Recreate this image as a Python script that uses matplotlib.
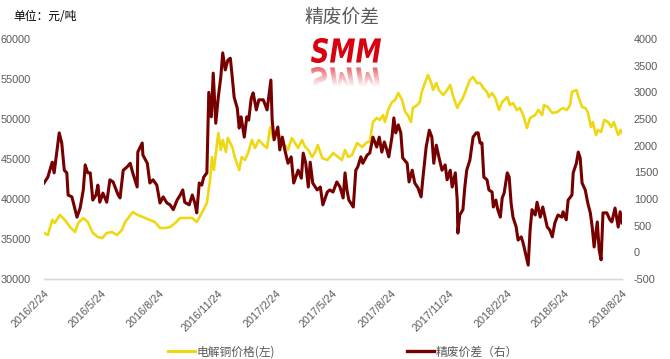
import datetime as dt
import numpy as np
import matplotlib
matplotlib.use('Agg')
import matplotlib.pyplot as plt
from matplotlib.textpath import TextPath
from matplotlib.patches import PathPatch
from matplotlib.font_manager import FontProperties
from matplotlib.transforms import Affine2D
from matplotlib.lines import Line2D

# ---------------- data ----------------
start_date = '2016-02-24'

# 电解铜价格 (left axis), days since start_date
copper_days = [0, 6, 13, 17, 25, 33, 41, 49, 54, 62,
               69, 77, 85, 92, 99, 107, 115, 123, 128, 133,
               140, 148, 156, 167, 175, 183, 191, 199, 207, 215,
               222, 234, 241, 249, 257, 262, 265, 268, 275, 279,
               282, 287, 290, 297, 301, 308, 312, 317, 322, 328,
               333, 339, 346, 352, 357, 361, 369, 376, 380, 385,
               391, 396, 401, 407, 412, 417, 423, 428, 432, 439,
               447, 454, 456, 464, 470, 475, 480, 486, 494, 502,
               510, 514, 519, 525, 530, 535, 538, 543, 549, 554,
               559, 565, 570, 574, 579, 582, 589, 593, 596, 601,
               606, 611, 614, 619, 623, 630, 636, 641, 645, 652,
               656, 661, 667, 672, 677, 683, 688, 693, 699, 702,
               707, 712, 718, 723, 731, 735, 740, 746, 751, 756,
               762, 767, 775, 780, 786, 789, 795, 802, 810, 814,
               819, 825, 830, 833, 840, 844, 849, 854, 858, 863,
               866, 871, 874, 879, 884, 890, 895, 899, 906, 910,
               912]
copper_price = [35750, 35500, 37375, 37000, 38000, 37375, 36500, 35875, 37000, 37625,
                37125, 35750, 35250, 35125, 35750, 35875, 35500, 36125, 37125, 37625,
                38375, 38000, 37750, 37375, 37125, 36375, 36375, 36500, 37000, 37625,
                37625, 37625, 37125, 38250, 39500, 42375, 45250, 43625, 48250, 46125,
                47375, 45875, 47625, 46500, 45250, 43625, 45250, 44875, 45750, 47375,
                46375, 47375, 46750, 46375, 49000, 47750, 48375, 47375, 46750, 46125,
                47625, 47000, 46375, 47375, 46500, 46125, 45250, 45875, 46750, 45125,
                44875, 45500, 45750, 45250, 44875, 46125, 45250, 45500, 47000, 46500,
                47125, 47125, 49625, 50125, 49875, 50500, 49625, 51125, 52125, 52375,
                53250, 52375, 50875, 50500, 49625, 51375, 51750, 52125, 53375, 54500,
                55500, 54500, 53625, 54500, 53625, 53000, 53625, 54250, 53000, 51375,
                52000, 52625, 53875, 54875, 55250, 54500, 54500, 53875, 53375, 52750,
                53250, 52625, 51125, 52125, 52750, 51750, 52000, 51125, 51375, 50500,
                48875, 50125, 50500, 51125, 50500, 51750, 51500, 50750, 50875, 51125,
                51375, 51125, 51750, 53375, 53625, 52625, 51500, 51375, 50875, 49000,
                49625, 48000, 48625, 48375, 49875, 49625, 49000, 49625, 48000, 48625,
                48250]

# 精废价差 (right axis), days since start_date
spread_days = [0, 6, 13, 16, 19, 24, 28, 32, 36, 38,
               44, 52, 57, 62, 65, 69, 73, 77, 82, 85,
               88, 93, 99, 104, 109, 117, 120, 125, 131, 136,
               140, 147, 148, 155, 156, 163, 167, 172, 178, 183,
               188, 194, 199, 204, 210, 215, 219, 222, 229, 234,
               238, 241, 245, 249, 252, 257, 260, 264, 267, 271,
               275, 279, 282, 286, 290, 294, 297, 300, 305, 308,
               311, 316, 320, 323, 327, 330, 335, 339, 346, 352,
               358, 360, 363, 369, 372, 376, 380, 385, 390, 394,
               401, 406, 409, 413, 417, 420, 424, 431, 436, 440,
               447, 451, 456, 462, 467, 472, 475, 478, 481, 488,
               492, 495, 500, 503, 510, 514, 519, 525, 529, 533,
               537, 541, 544, 549, 552, 555, 559, 563, 566, 573,
               576, 581, 585, 590, 595, 598, 603, 608, 612, 615,
               619, 623, 628, 633, 636, 641, 644, 649, 652, 653,
               656, 661, 664, 667, 672, 677, 682, 685, 688, 691,
               694, 699, 702, 707, 709, 713, 716, 720, 723, 726,
               731, 734, 737, 740, 745, 748, 753, 756, 761, 764,
               767, 770, 775, 778, 783, 787, 794, 798, 802, 806,
               811, 817, 819, 824, 827, 833, 835, 840, 843, 846,
               849, 854, 858, 862, 865, 868, 873, 876, 879, 882,
               888, 893, 896, 901, 906, 909, 912]
spread_value = [1300, 1410, 1690, 1490, 1770, 2240, 2050, 1540, 1490, 1075,
                1040, 660, 830, 1170, 1640, 1490, 1490, 980, 1075, 1260,
                940, 1110, 940, 1360, 1320, 1075, 1020, 1540, 1600, 1670,
                1490, 1225, 1880, 2050, 1825, 1670, 1300, 1360, 1260, 925,
                1040, 925, 890, 800, 980, 1075, 1170, 940, 890, 1075,
                925, 740, 1300, 1260, 1410, 1490, 3000, 2540, 3360, 2420,
                2910, 3290, 3740, 3420, 3600, 3640, 3290, 2910, 2700, 2330,
                2540, 2160, 2540, 2480, 2890, 2990, 2670, 2860, 2860, 2670,
                3230, 2480, 2110, 2350, 1920, 2160, 1920, 1670, 1790, 1300,
                1540, 1390, 1860, 1670, 1225, 1690, 1300, 1170, 1225, 890,
                1130, 1170, 1130, 1320, 1225, 1020, 1490, 1170, 980, 850,
                1540, 1600, 1790, 1670, 1825, 1860, 2160, 1975, 2160, 1880,
                2070, 1920, 1790, 2160, 2520, 2240, 2390, 2240, 1770, 1670,
                1320, 1540, 1300, 1210, 1040, 1410, 1975, 2290, 2160, 1670,
                2010, 1790, 1540, 1640, 1360, 1540, 1225, 1490, 980, 360,
                700, 800, 1225, 1540, 1730, 2160, 2240, 2240, 2050, 2050,
                1410, 1360, 1170, 1130, 850, 980, 800, 660, 1020, 1110,
                1490, 1410, 925, 660, 475, 230, 290, 175, -90, -240,
                420, 800, 700, 940, 660, 850, 475, 420, 290, 550,
                700, 660, 760, 610, 980, 1075, 1490, 1670, 1880, 1770,
                1300, 1170, 925, 740, 475, 100, 570, 40, -140, 740,
                740, 610, 570, 830, 475, 760, 550]

x_tick_labels = ['2016/2/24', '2016/5/24', '2016/8/24', '2016/11/24', '2017/2/24',
                 '2017/5/24', '2017/8/24', '2017/11/24', '2018/2/24', '2018/5/24',
                 '2018/8/24']
left_ticks = [30000, 35000, 40000, 45000, 50000, 55000, 60000]
right_ticks = [-500, 0, 500, 1000, 1500, 2000, 2500, 3000, 3500, 4000]

title = '精废价差'
unit_text = '单位：元/吨'
legend_labels = ['电解铜价格(左)', '精废价差（右）']

# ---------------- styling ----------------
COL_CU = '#EED814'
COL_SP = '#760000'
TXT = '#595959'
CJK = ['Noto Sans CJK SC', 'DejaVu Sans']
NUM = ['Liberation Sans', 'DejaVu Sans']
plt.rcParams['font.family'] = NUM

W, H = 670, 359
fig = plt.figure(figsize=(W / 100, H / 100), dpi=100)
fig.patch.set_facecolor('white')

L, R, T, B = 44, 622, 39, 279
ax = fig.add_axes([L / W, 1 - B / H, (R - L) / W, (B - T) / H])
ax2 = ax.twinx()

t0 = np.datetime64(start_date)
cu_dates = t0 + np.array(copper_days).astype('timedelta64[D]')
sp_dates = t0 + np.array(spread_days).astype('timedelta64[D]')

ax.plot(cu_dates, copper_price, color=COL_CU, lw=1.9, solid_joinstyle='round')
ax2.plot(sp_dates, spread_value, color=COL_SP, lw=2.2, solid_joinstyle='round')

tick_dates = [np.datetime64(dt.datetime.strptime(s, '%Y/%m/%d').date()) for s in x_tick_labels]
ax.set_xlim(tick_dates[0], tick_dates[-1])
ax.set_xticks(tick_dates)
ax.set_xticklabels(x_tick_labels, rotation=45, ha='right', va='top',
                   rotation_mode='anchor', fontsize=7.8, color=TXT)
ax.tick_params(axis='x', length=0, pad=6.5)

ax.set_ylim(30000, 60000)
ax.set_yticks(left_ticks)
ax.set_yticklabels([str(v) for v in left_ticks], fontsize=7.8, color=TXT)
ax.tick_params(axis='y', length=0, pad=9.5)

ax2.set_ylim(-500, 4000)
ax2.set_yticks(right_ticks)
ax2.set_yticklabels([str(v) for v in right_ticks], fontsize=7.8, color=TXT)
ax2.tick_params(axis='y', length=0, pad=8.5)

for a in (ax, ax2):
    for s in ('top', 'left', 'right'):
        a.spines[s].set_visible(False)
    a.spines['bottom'].set_color('#D9D9D9')
    a.spines['bottom'].set_linewidth(1.0)
    a.patch.set_visible(False)

# titles
fig.text(342 / W, 1 - 17 / H, title, ha='center', va='center', fontsize=13.5,
         color=TXT, family=CJK)
fig.text(13 / W, 1 - 17 / H, unit_text, ha='left', va='center', fontsize=8.5,
         color='black', family=CJK)

# legend
handles = [Line2D([], [], color=COL_CU, lw=2.2), Line2D([], [], color=COL_SP, lw=2.4)]
leg = fig.legend(handles, legend_labels, loc='center', ncol=2,
                 bbox_to_anchor=(343 / W, 1 - 352 / H), frameon=False,
                 prop=FontProperties(family=CJK, size=8.5), handlelength=2.3,
                 handletextpad=0.1, columnspacing=11.2)
for t in leg.get_texts():
    t.set_color(TXT)

# SMM logo with reflection
lax = fig.add_axes([0, 0, 1, 1], zorder=5)
lax.set_axis_off()
fp = FontProperties(family='DejaVu Sans', weight='bold', style='oblique')
tp = TextPath((0, 0), 'SMM', prop=fp, size=1)
ext = tp.get_extents()
bx0, by0, bw, bh = 311, 38, 70, 25
sx, sy = bw / ext.width, bh / ext.height
main_t = Affine2D().translate(-ext.x0, -ext.y0).scale(sx, -sy).translate(bx0, by0 + bh)
refl_t = Affine2D().translate(-ext.x0, -ext.y0).scale(sx, sy).translate(bx0, by0 + bh + 4)
lax.add_patch(PathPatch(main_t.transform_path(tp), facecolor='#D9000F',
                        edgecolor='none', transform=lax.transData))
rpatch = PathPatch(refl_t.transform_path(tp), facecolor='none', edgecolor='none',
                   transform=lax.transData)
lax.add_patch(rpatch)
n = 64
grad = np.zeros((n, 1, 4))
grad[:, 0, 0] = 0.85
grad[:, 0, 1] = 0.0
grad[:, 0, 2] = 0.06
grad[:, 0, 3] = np.clip(0.6 * (1 - np.linspace(0, 1, n) / 0.8), 0, 1)
im = lax.imshow(grad, extent=(bx0 - 2, bx0 + bw + 2, by0 + 2 * bh + 4, by0 + bh + 4),
                aspect='auto', origin='upper', interpolation='bilinear')
im.set_clip_path(rpatch)
lax.set_xlim(0, W)
lax.set_ylim(H, 0)

fig.savefig('out.png', dpi=100, facecolor='white')
